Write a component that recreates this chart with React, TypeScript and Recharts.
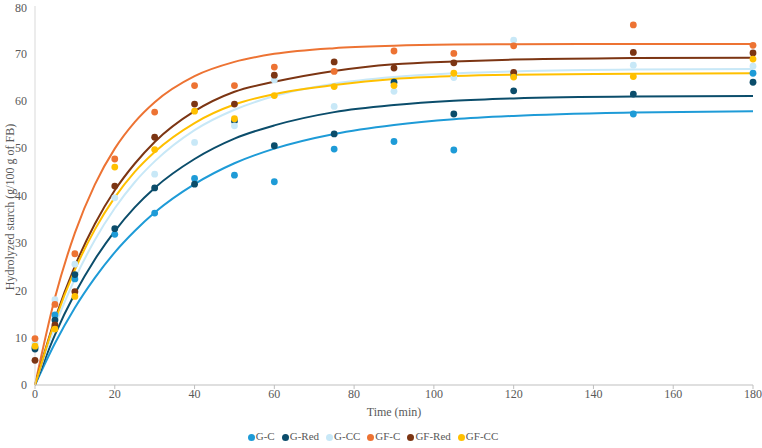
import { ComposedChart, Line, Scatter, XAxis, YAxis, Legend } from "recharts";

// sampling times (min)
const times = [0, 5, 10, 20, 30, 40, 50, 60, 75, 90, 105, 120, 150, 180];
const fitTimes = [0, 5, 10, 15, 20, 25, 30, 40, 50, 60, 75, 90, 105, 120, 150, 180];

// measured hydrolyzed starch (g/100 g of FB)
const gC = [7.9, 14.8, 22.4, 31.8, 36.3, 43.6, 44.3, 42.9, 49.8, 51.4, 49.6, 65.4, 57.2, 65.8];
const gRed = [7.6, 13.7, 23.3, 33.0, 41.6, 42.4, 55.7, 50.5, 53.0, 63.9, 57.2, 62.1, 61.4, 63.9];
const gCC = [8.8, 18.0, 25.5, 39.5, 44.5, 51.2, 54.7, 64.4, 58.8, 62.0, 64.9, 72.8, 67.5, 67.3];
const gfC = [9.8, 17.0, 27.7, 47.7, 57.6, 63.2, 63.2, 67.1, 66.2, 70.5, 70.0, 71.6, 76.0, 71.7];
const gfRed = [5.2, 12.7, 19.7, 42.0, 52.3, 59.3, 59.3, 65.4, 68.2, 66.9, 68.0, 66.0, 70.2, 70.1];
const gfCC = [8.2, 11.8, 18.7, 46.0, 49.7, 57.8, 56.2, 61.1, 63.0, 63.2, 65.8, 65.0, 65.1, 68.8];

// fitted curves
const fitGC = [0, 8.8, 16.3, 22.6, 28.0, 32.5, 36.4, 42.4, 46.8, 49.9, 53.0, 54.9, 56.1, 56.8, 57.5, 57.8];
const fitGRed = [0, 10.6, 19.3, 26.5, 32.5, 37.5, 41.6, 47.7, 52.0, 54.8, 57.6, 59.1, 60.0, 60.5, 60.9, 61.0];
const fitGCC = [0, 12.4, 22.4, 30.6, 37.3, 42.8, 47.2, 53.8, 58.1, 61.0, 63.6, 65.0, 65.8, 66.2, 66.6, 66.7];
const fitGFC = [0, 18.4, 32.1, 42.3, 49.9, 55.5, 59.7, 65.2, 68.2, 69.9, 71.1, 71.6, 71.85, 71.95, 72.0, 72.0];
const fitGFRed = [0, 13.9, 25.1, 34.0, 41.1, 46.7, 51.3, 57.8, 61.9, 64.0, 66.3, 67.7, 68.3, 68.7, 69.0, 69.1];
const fitGFCC = [0, 13.5, 24.3, 32.8, 39.6, 45.0, 49.2, 55.3, 59.2, 61.4, 63.3, 64.6, 65.2, 65.5, 65.7, 65.8];

const xTicks = [0, 20, 40, 60, 80, 100, 120, 140, 160, 180];
const yTicks = [0, 10, 20, 30, 40, 50, 60, 70, 80];

const series = [
  { name: "G-C", key: "gC", color: "#1E9BD7", obs: gC, fit: fitGC },
  { name: "G-Red", key: "gRed", color: "#0B4D6B", obs: gRed, fit: fitGRed },
  { name: "G-CC", key: "gCC", color: "#C8E8F7", obs: gCC, fit: fitGCC },
  { name: "GF-C", key: "gfC", color: "#ED7333", obs: gfC, fit: fitGFC },
  { name: "GF-Red", key: "gfRed", color: "#7C3513", obs: gfRed, fit: fitGFRed },
  { name: "GF-CC", key: "gfCC", color: "#FFC000", obs: gfCC, fit: fitGFCC },
];
const names = series.map((s) => s.name);

const fitRows = fitTimes.map((t, i) => {
  const row: Record<string, number> = { t };
  series.forEach((s) => (row[s.key] = s.fit[i]));
  return row;
});

const FONT = "'Liberation Serif', serif";
const GREY = "#595959";

function YLabel() {
  return (
    <text
      x={10}
      y={207}
      transform="rotate(-90 10 207)"
      textAnchor="middle"
      dominantBaseline="central"
      fill={GREY}
      fontSize={12}
    >
      Hydrolyzed starch (g/100 g of FB)
    </text>
  );
}

export default function App() {
  return (
    <div style={{ position: "absolute", left: 0, top: 0, fontFamily: FONT }}>
      <style>{`.recharts-wrapper, .recharts-wrapper text, .recharts-legend-item-text { font-family: 'Liberation Serif', serif !important; }
.recharts-default-legend .recharts-legend-item { margin-right: 7px !important; }`}</style>
      <ComposedChart
        width={762}
        height={448}
        data={fitRows}
        margin={{ top: 6, right: 9, bottom: 6, left: 0 }}
      >
        <XAxis
          dataKey="t"
          type="number"
          domain={[0, 180]}
          ticks={xTicks}
          height={45}
          stroke="#BFBFBF"
          tickSize={4}
          tickMargin={0}
          tick={{ fill: GREY, fontSize: 12 }}
          label={{
            value: "Time (min)",
            position: "insideBottom",
            offset: 14,
            fill: GREY,
            fontSize: 12,
          }}
        />
        <YAxis
          type="number"
          domain={[0, 80]}
          ticks={yTicks}
          width={35}
          stroke="#D9D9D9"
          tickLine={false}
          tick={{ fill: GREY, fontSize: 12 }}
          label={<YLabel />}
        />
        {series.map((s) => (
          <Line
            key={"fit-" + s.key}
            dataKey={s.key}
            type="monotone"
            stroke={s.color}
            strokeWidth={2}
            dot={false}
            activeDot={false}
            legendType="none"
            isAnimationActive={false}
          />
        ))}
        {series.map((s) => (
          <Scatter
            key={"obs-" + s.key}
            name={s.name}
            data={times.map((t, i) => ({ t, v: s.obs[i] }))}
            dataKey="v"
            fill={s.color}
            legendType="circle"
            isAnimationActive={false}
            shape={(p: any) => <circle cx={p.cx} cy={p.cy} r={3.4} fill={s.color} />}
          />
        ))}
        <Legend
          verticalAlign="bottom"
          iconType="circle"
          iconSize={7}
          itemSorter={(item: any) => names.indexOf(item.value)}
          wrapperStyle={{ fontSize: 11, color: GREY }}
          formatter={(v: string) => <span style={{ color: GREY, marginLeft: -3 }}>{v}</span>}
        />
      </ComposedChart>
    </div>
  );
}
